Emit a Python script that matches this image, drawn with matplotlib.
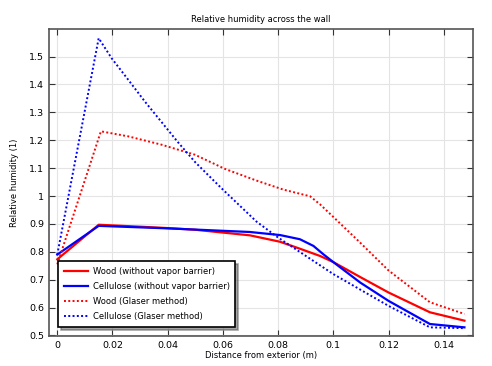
import matplotlib.pyplot as plt

# distance from exterior (m) and relative humidity (1)
x_wood = [0, 0.015, 0.03, 0.04, 0.05, 0.0698, 0.0807, 0.0879, 0.0952, 0.1, 0.11, 0.12, 0.135, 0.1475]
rh_wood = [0.773, 0.897, 0.890, 0.885, 0.879, 0.859, 0.836, 0.811, 0.785, 0.763, 0.708, 0.654, 0.583, 0.553]

x_cell = [0, 0.015, 0.04, 0.0698, 0.0807, 0.0879, 0.0928, 0.0964, 0.1, 0.1097, 0.12, 0.135, 0.1475]
rh_cell = [0.790, 0.893, 0.884, 0.871, 0.860, 0.845, 0.821, 0.791, 0.763, 0.690, 0.624, 0.541, 0.529]

x_wood_g = [0, 0.0158, 0.0257, 0.0378, 0.0499, 0.0608, 0.072, 0.0819, 0.0916, 0.0952, 0.1, 0.1097, 0.12, 0.135, 0.1475]
rh_wood_g = [0.755, 1.232, 1.214, 1.184, 1.148, 1.097, 1.056, 1.023, 0.999, 0.97, 0.925, 0.833, 0.733, 0.619, 0.577]

x_cell_g = [0, 0.015, 0.0197, 0.0257, 0.0318, 0.0378, 0.0438, 0.0499, 0.056, 0.0601, 0.0722, 0.08, 0.1, 0.12, 0.135, 0.1475]
rh_cell_g = [0.79, 1.566, 1.494, 1.417, 1.338, 1.265, 1.192, 1.122, 1.062, 1.022, 0.908, 0.851, 0.72, 0.606, 0.529, 0.526]

fig = plt.figure(figsize=(4.92, 3.66), dpi=100)
ax = fig.add_axes([49 / 492, 1 - 336 / 366, 424 / 492, 307 / 366])

ax.plot(x_wood, rh_wood, color='red', lw=1.6, label='Wood (without vapor barrier)')
ax.plot(x_cell, rh_cell, color='blue', lw=1.6, label='Cellulose (without vapor barrier)')
ax.plot(x_wood_g, rh_wood_g, color='red', lw=1.4, ls=(0, (1, 1.2)), label='Wood (Glaser method)')
ax.plot(x_cell_g, rh_cell_g, color='blue', lw=1.4, ls=(0, (1, 1.2)), label='Cellulose (Glaser method)')

ax.set_xlim(-0.003, 0.1506)
ax.set_ylim(0.498, 1.599)
ax.set_xticks([0, 0.02, 0.04, 0.06, 0.08, 0.1, 0.12, 0.14])
ax.set_xticklabels(['0', '0.02', '0.04', '0.06', '0.08', '0.1', '0.12', '0.14'])
ax.set_yticks([0.5, 0.6, 0.7, 0.8, 0.9, 1.0, 1.1, 1.2, 1.3, 1.4, 1.5])
ax.set_yticklabels(['0.5', '0.6', '0.7', '0.8', '0.9', '1', '1.1', '1.2', '1.3', '1.4', '1.5'])
ax.tick_params(direction='in', top=True, right=True, labelsize=6.8, length=4, color='#333333')
ax.grid(True, color='#e4e4e4', lw=0.8)
ax.set_axisbelow(True)
for s in ax.spines.values():
    s.set_color('#555555')
    s.set_linewidth(1.2)

ax.set_title('Relative humidity across the wall', fontsize=6, pad=5)
ax.set_xlabel('Distance from exterior (m)', fontsize=6, labelpad=1)
ax.set_ylabel('Relative humidity (1)', fontsize=6, labelpad=7)

leg = ax.legend(loc='lower left', fontsize=6, frameon=True, fancybox=False, shadow=True,
                borderaxespad=0, handlelength=2.9, handletextpad=0.55, labelspacing=0.72,
                borderpad=0.7, bbox_to_anchor=(9 / 424, 9 / 307))
leg.get_frame().set_edgecolor('black')
leg.get_frame().set_linewidth(1.2)

fig.savefig('out.png', dpi=100)
